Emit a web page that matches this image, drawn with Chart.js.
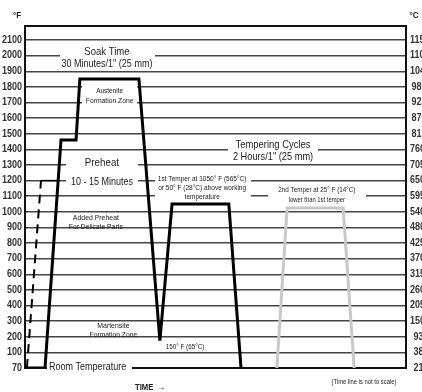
<!DOCTYPE html>
<html>
<head>
<meta charset="utf-8">
<script src="https://cdn.jsdelivr.net/npm/chart.js@4"></script>
<style>
html,body{margin:0;padding:0;background:#fff;}
canvas{display:block;}
</style>
</head>
<body>
<canvas id="c" width="422" height="392"></canvas>
<script>
// ---- data ----
const ticksF = [70,100,200,300,400,500,600,700,800,900,1000,1100,1200,1300,1400,1500,1600,1700,1800,1900,2000,2100];
const ticksC = ['21','38','93','150','205','260','315','370','425','480','540','595','650','705','760','815','870','925','980','1040','1100','1150'];
// time is in arbitrary units (the time line is not to scale)
const quenchTime  = [0, 5.25, 9.45, 13.4, 14.4, 29.9, 35.4, 38.6, 53.5, 56.7];
const quenchTemp  = [70, 70, 1460, 1460, 1850, 1850, 175, 1050, 1050, 70];
const delicateTime = [0.5, 4.2];
const delicateTemp = [70, 1200];
const holdTime = [4.2, 8.7];
const holdTemp = [1200, 1200];
const temper2Time = [66.1, 68.8, 83.5, 86.4];
const temper2Temp = [70, 1025, 1025, 70];

// temperature -> evenly spaced axis position
function pos(t){ return t >= 100 ? t/100 : (t-70)/30; }
function pts(xs, ts){ return xs.map((x,i)=>({x:x, y:pos(ts[i])})); }

const FONT = "'Liberation Sans',Arial,sans-serif";

function txt(ctx, s, x, y, size, opt){
  opt = opt || {};
  ctx.save();
  ctx.font = (opt.bold ? 'bold ' : '') + size + 'px ' + FONT;
  ctx.textAlign = opt.align || 'center';
  ctx.textBaseline = 'middle';
  ctx.fillStyle = opt.color || '#222';
  ctx.translate(x, y);
  ctx.scale(opt.sq || 0.85, 1);
  ctx.fillText(s, 0, 0);
  ctx.restore();
}

// annotation text blocks
const notes = [
  {x:21.5, t:1985, lines:[['Soak Time',11.5,0.83],['30 Minutes/1" (25 mm)',10.5,0.86]], gap:12, box:[60,155], pad:5.5},
  {x:22.2, t:1741, lines:[['Austenite',7,0.92],['Formation Zone',7.5,0.9]], gap:10, box:[82,137], pad:6},
  {x:20.2, t:1252, lines:[['Preheat',11.5,0.85],['10 - 15 Minutes',11,0.82]], gap:19, box:[66,138], pad:6.5},
  {x:18.6, t:932, lines:[['Added Preheat',7.5,0.92],['For Delicate Parts',7.5,0.9]], gap:9, box:null},
  {x:23.2, t:243, lines:[['Martensite',7.5,0.92],['Formation Zone',7.5,0.9]], gap:9, box:null},
  {x:42.0, t:134, lines:[['150° F (65°C)',7,0.9]], gap:0, box:null},
  {x:46.5, t:1152, lines:[['1st Temper at 1050° F (565°C)',7.5,0.87],['or 50° F (28°C) above working',7.5,0.87],['temperature',7.5,0.87]], gap:9, box:[155,251], pad:6},
  {x:65.1, t:1390, lines:[['Tempering Cycles',11.5,0.82],['2 Hours/1" (25 mm)',11,0.84]], gap:12, box:[228,318], pad:6},
  {x:76.6, t:1108, lines:[['2nd Temper at 25° F (14°C)',7,0.9],['lower than 1st temper',6.5,0.9]], gap:10, box:[268,366], pad:5}
];

const overlay = {
  id:'overlay',
  beforeDatasetsDraw(chart){
    const {ctx, chartArea:a, scales} = chart;
    const xs = scales.x, ys = scales.y;
    ctx.save();
    ctx.strokeStyle = '#111';
    ctx.lineWidth = 2;
    ctx.strokeRect(a.left, a.top, a.right - a.left, a.bottom - a.top);
    notes.forEach(n=>{
      const cx = xs.getPixelForValue(n.x);
      const cy = ys.getPixelForValue(pos(n.t));
      const h = n.gap*(n.lines.length-1);
      const y0 = cy - h/2;
      if(n.box){
        ctx.fillStyle = '#fff';
        ctx.fillRect(n.box[0], y0 - n.pad, n.box[1]-n.box[0], h + 2*n.pad);
      }
      n.lines.forEach((l,i)=> txt(ctx, l[0], cx, y0 + i*n.gap, l[1], {sq:l[2]}));
    });
    // room temperature label on the bottom edge
    ctx.fillStyle = '#fff';
    ctx.fillRect(47, a.bottom - 6, 85, 10);
    txt(ctx, 'Room Temperature', 49, a.bottom - 1, 11, {align:'left', sq:0.82});
    // tick labels (both temperature scales)
    ticksF.forEach((v,i)=>{
      const y = ys.getPixelForValue(i);
      txt(ctx, String(v), a.left - 3, y, 10, {align:'right', bold:true, sq:0.9, color:'#333'});
      const c = ticksC[i];
      const indent = c.length < 3 ? 4.5 : (c.length === 3 && +c >= 800 && +c < 1000 ? 2.5 : 1);
      txt(ctx, c, a.right + 3 + indent, y, 10, {align:'left', bold:true, sq:0.9, color:'#333'});
    });
    txt(ctx, '°F', 17, 16, 9, {bold:true, sq:0.9});
    txt(ctx, '°C', 414, 16, 9, {bold:true, sq:0.9});
    txt(ctx, 'TIME  \u2192', 135, 388, 8.5, {bold:true, align:'left', sq:0.9});
    txt(ctx, '(Time line is not to scale)', 364, 382, 6.5, {sq:0.9});
    ctx.restore();
  }
};

new Chart(document.getElementById('c'), {
  type:'line',
  data:{
    datasets:[
      {data:pts(quenchTime, quenchTemp), borderColor:'#000', borderWidth:3, pointRadius:0, tension:0, borderJoinStyle:'miter'},
      {data:pts(delicateTime, delicateTemp), borderColor:'#000', borderWidth:2, borderDash:[9,6], pointRadius:0, tension:0},
      {data:pts(holdTime, holdTemp), borderColor:'#000', borderWidth:1.5, pointRadius:0, tension:0},
      {data:pts(temper2Time, temper2Temp), borderColor:'#c8c8c8', borderWidth:3, pointRadius:0, tension:0, borderJoinStyle:'miter'}
    ]
  },
  options:{
    responsive:false,
    devicePixelRatio:1,
    animation:false,
    layout:{padding:{top:26, bottom:24, left:0, right:0}},
    plugins:{legend:{display:false}, tooltip:{enabled:false}},
    scales:{
      x:{type:'linear', min:0, max:100, display:false},
      y:{
        type:'linear', position:'left', min:0, max:21.9,
        afterBuildTicks(s){ s.ticks = ticksF.map((v,i)=>({value:i})); },
        afterFit(s){ s.width = 25; },
        ticks:{display:false},
        grid:{drawTicks:false, color:'#454545', lineWidth:1.5},
        border:{display:false}
      },
      y2:{
        type:'linear', position:'right', min:0, max:21.9,
        afterFit(s){ s.width = 16; },
        ticks:{display:false},
        grid:{display:false, drawTicks:false},
        border:{display:false}
      }
    }
  },
  plugins:[overlay]
});
</script>
</body>
</html>
